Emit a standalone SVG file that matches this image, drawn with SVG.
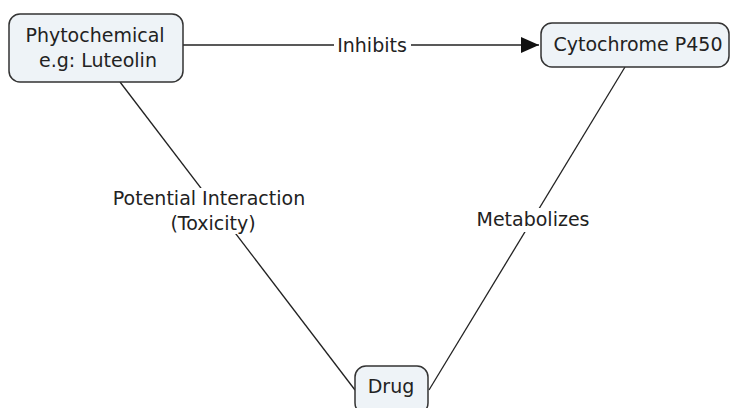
<svg xmlns="http://www.w3.org/2000/svg" width="732" height="408" viewBox="0 0 732 408">
<style>
.node rect{fill:#eef3f7;stroke:#333;stroke-width:1.5}
text{font-family:"DejaVu Sans",Verdana,sans-serif;font-size:19px;fill:#222;text-anchor:middle}
.lbl{fill:#fff}
.conn line{stroke:#222;stroke-width:1.3}
</style>
<defs>
<marker id="arr" markerWidth="20" markerHeight="16" refX="18" refY="8" orient="auto" markerUnits="userSpaceOnUse">
<path d="M0,0 L18,8 L0,16 Z" fill="#111"/>
</marker>
</defs>
<rect width="732" height="408" fill="#fff"/>
<g id="connectors" class="conn">
<line x1="183" y1="45" x2="539" y2="45" marker-end="url(#arr)"/>
<line x1="120" y1="82" x2="355" y2="390"/>
<line x1="625" y1="67" x2="429" y2="390"/>
<rect class="lbl" x="334" y="34" width="77" height="22"/>
<rect class="lbl" x="108" y="188" width="202" height="46"/>
<rect class="lbl" x="472" y="208" width="122" height="24"/>
<text x="372" y="52">Inhibits</text>
<text x="209" y="205">Potential Interaction</text>
<text x="213" y="230">(Toxicity)</text>
<text x="533" y="226">Metabolizes</text>
</g>
<g id="phytochemical" class="node">
<rect x="9" y="14" width="174" height="68" rx="11"/>
<text x="95" y="42">Phytochemical</text>
<text x="98" y="67">e.g: Luteolin</text>
</g>
<g id="cytochrome" class="node">
<rect x="541" y="23" width="188" height="44" rx="11"/>
<text x="638" y="51">Cytochrome P450</text>
</g>
<g id="drug" class="node">
<rect x="355" y="366" width="73" height="48" rx="11"/>
<text x="391" y="393">Drug</text>
</g>
</svg>
